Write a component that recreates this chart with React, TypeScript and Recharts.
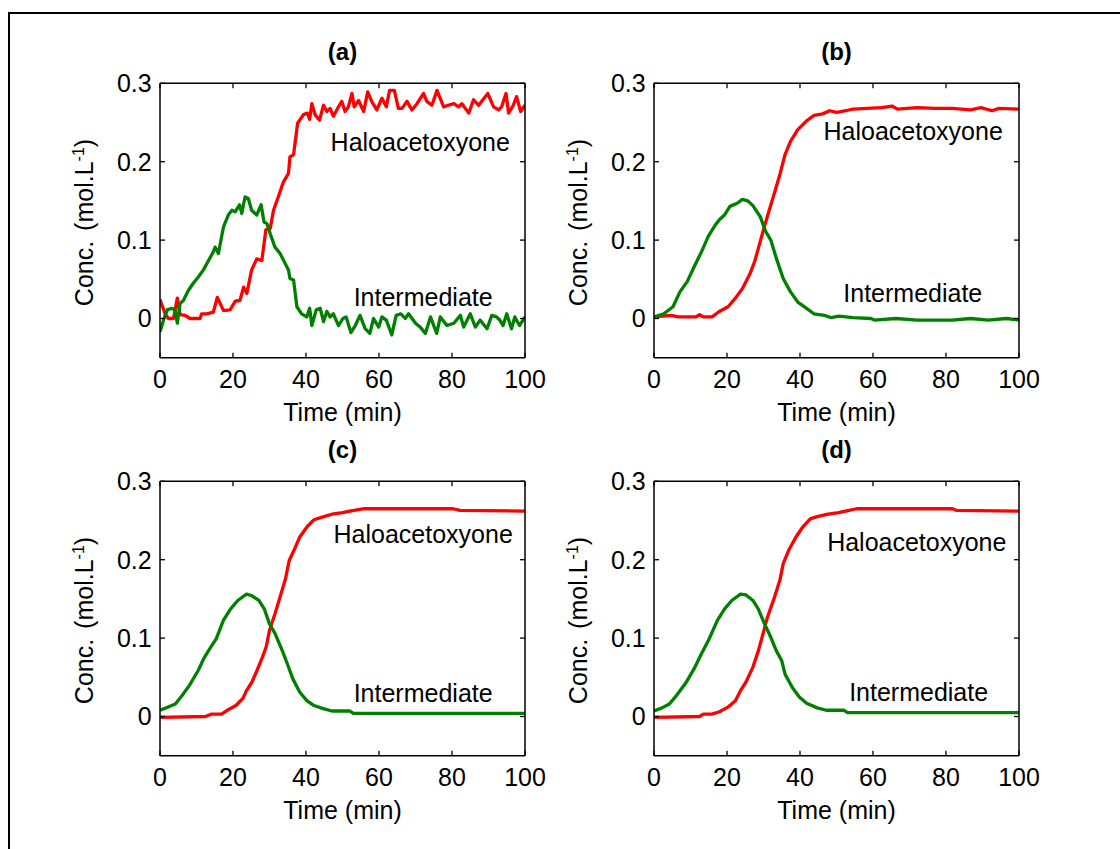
import React from 'react';
import { LineChart, Line, XAxis, YAxis, ReferenceDot } from 'recharts';

// ---------- axis ticks / labels ----------
const timeTicks = [0, 20, 40, 60, 80, 100];
const concTicks = [0, 0.1, 0.2, 0.3];
const panelTitles = ['(a)', '(b)', '(c)', '(d)'];
const seriesNames = ['Haloacetoxyone', 'Intermediate'];
const xAxisTitle = 'Time (min)';

// ---------- panel (a) ----------
const aHaloTime = [
  0, 1.4, 2.3, 3.7, 4.75, 5.5, 6.9, 8.2, 11, 11.4,
  12.8, 14.6, 15.7, 17.4, 19.2, 20.6, 21.9, 22.9, 23.8, 25.1,
  26.5, 27.9, 29, 30.2, 31.1, 32.4, 33.8, 35.2, 35.6, 36.6,
  37.7, 39.3, 40.4, 41, 41.6, 42.5, 43.7, 44.8, 45.7, 46.6,
  47.5, 48.9, 49.8, 50.7, 51.6, 52.6, 53.2, 54.4, 55.8, 56.9,
  58, 59.4, 60.8, 62, 62.9, 64.2, 65.3, 66.3, 67.7, 69,
  70.4, 72.2, 73.1, 74.5, 75.9, 77.7, 79, 80.5, 81.8, 82.7,
  84.6, 85.9, 87.3, 89.8, 91.4, 92.8, 93.6, 94.8, 95.5, 96.8,
  97.7, 98.8, 100,
];
const aHaloConc = [
  0.024, 0.006, 0, 0, 0.026, 0.005, 0.004, 0, 0, 0.006,
  0.006, 0.008, 0.027, 0.01, 0.011, 0.022, 0.023, 0.04, 0.032, 0.062,
  0.076, 0.074, 0.113, 0.115, 0.138, 0.155, 0.174, 0.185, 0.206, 0.209,
  0.249, 0.26, 0.262, 0.254, 0.274, 0.26, 0.253, 0.272, 0.264, 0.268,
  0.258, 0.27, 0.277, 0.264, 0.27, 0.287, 0.27, 0.278, 0.264, 0.289,
  0.277, 0.266, 0.281, 0.27, 0.291, 0.291, 0.268, 0.268, 0.277, 0.266,
  0.274, 0.287, 0.277, 0.272, 0.291, 0.27, 0.272, 0.274, 0.27, 0.274,
  0.262, 0.279, 0.272, 0.287, 0.27, 0.266, 0.27, 0.287, 0.262, 0.272,
  0.283, 0.264, 0.272,
];
const aInterTime = [
  0, 1.1, 2, 3.2, 4.1, 4.75, 5.5, 6.4, 7.8, 9.1,
  10.5, 11.9, 13.3, 14.6, 15.1, 16, 17.4, 18.7, 19.7, 20.6,
  21.8, 22.4, 23.3, 24.2, 25.1, 26.5, 27.7, 28.5, 29.3, 30.2,
  31.5, 32.9, 34.3, 35.2, 35.6, 36.6, 37.5, 38.8, 40.2, 41,
  41.6, 42.8, 43.9, 44.8, 45.7, 46.6, 47.5, 48.9, 50.1, 51,
  52.3, 53.5, 54.8, 56.2, 57.5, 58.5, 59.9, 60.8, 62, 63.5,
  64.7, 66, 67.2, 68.1, 70, 71.3, 72.7, 74.1, 75.8, 76.8,
  78.6, 80.5, 82.3, 83.2, 85, 86.4, 87.7, 89.6, 90.9, 92.2,
  93.1, 94, 95, 96.3, 97.2, 98.5, 100,
];
const aInterConc = [
  -0.017, 0, 0.011, 0.013, 0.011, -0.006, 0.019, 0.023, 0.036, 0.045,
  0.053, 0.062, 0.074, 0.085, 0.091, 0.083, 0.117, 0.132, 0.138, 0.136,
  0.145, 0.134, 0.155, 0.153, 0.138, 0.132, 0.145, 0.123, 0.121, 0.108,
  0.091, 0.083, 0.07, 0.062, 0.051, 0.049, 0.015, 0.006, 0.002, 0.013,
  -0.009, 0.011, 0.013, -0.004, 0.009, 0.002, 0.006, -0.009, 0, 0.002,
  -0.018, -0.009, 0.004, -0.013, -0.019, 0, -0.011, 0.002, -0.002, -0.021,
  0.004, 0.006, 0, 0.006, -0.006, -0.011, -0.019, 0.002, -0.019, 0.002,
  -0.009, -0.006, 0.004, -0.011, 0.006, -0.011, -0.002, -0.013, 0.004, 0.002,
  -0.002, -0.009, 0.006, -0.013, 0.002, -0.009, 0.002,
];

// ---------- panel (b) ----------
const bHaloTime = [
  0, 4.7, 6.6, 11.5, 12.5, 13.5, 15.9, 17.9, 20.3, 22.3,
  24.2, 26.2, 27.6, 29.1, 30.1, 31.5, 33, 34.5, 35.9, 37.4,
  39.4, 41.8, 43.8, 46.2, 48.1, 50.1, 52.5, 54.5, 58.4, 62.3,
  63.8, 65.2, 66.7, 72.1, 77, 81.8, 86.7, 89.6, 92.6, 94.5,
  100,
];
const bHaloConc = [
  0.002, 0.004, 0.002, 0.002, 0.005, 0.002, 0.002, 0.009, 0.015, 0.026,
  0.038, 0.056, 0.073, 0.098, 0.115, 0.137, 0.16, 0.184, 0.209, 0.226,
  0.241, 0.252, 0.259, 0.261, 0.265, 0.263, 0.265, 0.267, 0.268, 0.269,
  0.27, 0.271, 0.267, 0.269, 0.268, 0.268, 0.266, 0.269, 0.265, 0.268,
  0.267,
];
const bInterTime = [
  0, 2.7, 5.2, 7.1, 9.1, 11, 13, 14.9, 16.9, 17.9,
  19.3, 20.8, 22.8, 24.2, 25.7, 27.1, 29.1, 30.6, 32, 33.5,
  35.4, 37.4, 39.4, 41.8, 43.8, 46.7, 48.6, 50.6, 54.5, 59.4,
  60.4, 66.2, 72.1, 81.8, 86.7, 91.6, 96.5, 100,
];
const bInterConc = [
  0.002, 0.006, 0.015, 0.034, 0.047, 0.066, 0.085, 0.105, 0.12, 0.126,
  0.132, 0.143, 0.147, 0.152, 0.15, 0.144, 0.13, 0.111, 0.1, 0.077,
  0.051, 0.034, 0.021, 0.013, 0.006, 0.004, 0.001, 0.003, 0.001, 0,
  -0.002, 0, -0.002, -0.002, 0, -0.002, 0, -0.002,
];

// ---------- panel (c) ----------
const cHaloTime = [
  0, 12.5, 14, 16.9, 18.8, 20.8, 22.7, 23.7, 25.2, 26.6,
  28.1, 29.1, 30, 31.5, 33, 34.4, 35.4, 36.9, 38.3, 40.3,
  42.2, 44.2, 47.1, 50, 52, 55.9, 63.7, 80.3, 82.2, 100,
];
const cHaloConc = [
  -0.001, 0, 0.003, 0.003, 0.009, 0.014, 0.023, 0.033, 0.044, 0.059,
  0.076, 0.089, 0.11, 0.131, 0.154, 0.176, 0.199, 0.214, 0.229, 0.242,
  0.251, 0.254, 0.258, 0.26, 0.262, 0.265, 0.265, 0.265, 0.263, 0.262,
];
const cInterTime = [
  0, 2.2, 4.2, 6.1, 8.1, 10.5, 12, 14, 15.4, 17.4,
  19.3, 21.3, 23.7, 25.2, 27.1, 28.6, 30, 31.5, 33.5, 34.9,
  36.4, 38.3, 40.3, 42.2, 44.7, 47.1, 52, 53, 100,
];
const cInterConc = [
  0.008, 0.012, 0.016, 0.027, 0.04, 0.059, 0.074, 0.089, 0.099, 0.123,
  0.137, 0.148, 0.156, 0.154, 0.148, 0.137, 0.118, 0.106, 0.084, 0.067,
  0.048, 0.031, 0.02, 0.014, 0.01, 0.007, 0.007, 0.004, 0.004,
];

// ---------- panel (d) ----------
const dHaloTime = [
  0, 12.5, 13.5, 15.9, 17.9, 20.3, 22.3, 23.7, 25.2, 27.1,
  28.6, 29.6, 31.1, 33, 34.5, 35.4, 36.9, 38.9, 40.8, 42.8,
  44.7, 47.7, 50.6, 52.5, 55.5, 81.8, 82.8, 100,
];
const dHaloConc = [
  -0.001, 0, 0.003, 0.003, 0.006, 0.012, 0.02, 0.033, 0.044, 0.063,
  0.084, 0.101, 0.127, 0.152, 0.174, 0.195, 0.212, 0.229, 0.242, 0.252,
  0.255, 0.258, 0.26, 0.262, 0.265, 0.265, 0.263, 0.262,
];
const dInterTime = [
  0, 2.2, 4.2, 6.2, 8.6, 11, 13, 14.9, 17.4, 19.3,
  21.3, 23.7, 25.2, 27.1, 28.6, 30.1, 32, 33.5, 35, 35.9,
  37.9, 39.8, 41.8, 44.7, 47.2, 52, 53, 100,
];
const dInterConc = [
  0.007, 0.011, 0.016, 0.027, 0.042, 0.061, 0.08, 0.097, 0.123, 0.137,
  0.148, 0.156, 0.155, 0.148, 0.137, 0.12, 0.101, 0.084, 0.071, 0.054,
  0.037, 0.025, 0.017, 0.011, 0.008, 0.008, 0.005, 0.005,
];

// ---------- annotation anchors (time, conc) ----------
const haloLabelAt = [
  [71.3, 0.2255],
  [71.0, 0.2387],
  [72.1, 0.233],
  [72.0, 0.2225],
];
const interLabelAt = [
  [72.1, 0.0276],
  [70.9, 0.0319],
  [72.1, 0.03],
  [72.5, 0.031],
];

// ---------- layout / style ----------
const RED = '#FF0000';
const GREEN = '#008000';
const FONT = 25;
const CHART_W = 560;
const CHART_H = 440;
// plot area: x 160..525, y 83.3..357.7 inside each chart
const MARGIN = { top: 82.3, right: 34, bottom: 52.3, left: 100 };
const panelPos = [
  { left: 0, top: 0 },
  { left: 493.6, top: 0 },
  { left: 0, top: 397.7 },
  { left: 493.6, top: 397.7 },
];

const zip = (t: number[], c: number[]) => t.map((x, i) => ({ t: x, c: c[i] }));

const panelData = [
  { halo: zip(aHaloTime, aHaloConc), inter: zip(aInterTime, aInterConc) },
  { halo: zip(bHaloTime, bHaloConc), inter: zip(bInterTime, bInterConc) },
  { halo: zip(cHaloTime, cHaloConc), inter: zip(cInterTime, cInterConc) },
  { halo: zip(dHaloTime, dHaloConc), inter: zip(dInterTime, dInterConc) },
];

const fmtConc = (v: number) => (v === 0 ? '0' : String(v));
const noLabel = () => '';

const axisLine = { stroke: '#000', strokeWidth: 1.5 };
const tickLine = { stroke: '#000', strokeWidth: 1.3 };

function makeTitle(title: string) {
  return (props: any) => {
    const vb = props.viewBox || { x: 0, y: 0, width: 0, height: 0 };
    return (
      <text
        x={vb.x + vb.width / 2}
        y={vb.y + vb.height - 23}
        textAnchor="middle"
        fontSize={24}
        fontWeight="bold"
        fill="#000"
      >
        {title}
      </text>
    );
  };
}

const TimeLabel = (props: any) => {
  const vb = props.viewBox || { x: 0, y: 0, width: 0, height: 0 };
  return (
    <text x={vb.x + vb.width / 2} y={vb.y + 63.3} textAnchor="middle" fontSize={FONT} fill="#000">
      {xAxisTitle}
    </text>
  );
};

const ConcLabel = (props: any) => {
  const vb = props.viewBox || { x: 0, y: 0, width: 0, height: 0 };
  const bx = vb.x + vb.width - 67;
  const cy = vb.y + vb.height / 2 + 2;
  return (
    <text transform={`translate(${bx},${cy}) rotate(-90)`} textAnchor="middle" fontSize={FONT} fill="#000">
      {'Conc. '}
      <tspan dx={3}>(mol.L</tspan>
      <tspan dy={-9} fontSize={16}>-1</tspan>
      <tspan dy={9}>)</tspan>
    </text>
  );
};

function Panel({ idx }: { idx: number }) {
  const { halo, inter } = panelData[idx];
  const pos = panelPos[idx];
  return (
    <div style={{ position: 'absolute', left: pos.left, top: pos.top, width: CHART_W, height: CHART_H }}>
      <LineChart width={CHART_W} height={CHART_H} margin={MARGIN}>
        <XAxis
          xAxisId="b"
          type="number"
          dataKey="t"
          domain={[0, 100]}
          allowDataOverflow
          ticks={timeTicks}
          orientation="bottom"
          height={30}
          tickSize={-5}
          tickMargin={17.8}
          axisLine={axisLine}
          tickLine={tickLine}
          tick={{ fontSize: FONT, fill: '#000' }}
          label={TimeLabel}
        />
        <XAxis
          xAxisId="top"
          type="number"
          dataKey="t"
          domain={[0, 100]}
          allowDataOverflow
          ticks={timeTicks}
          orientation="top"
          height={1}
          tickSize={-5}
          tickFormatter={noLabel}
          axisLine={axisLine}
          tickLine={tickLine}
          label={makeTitle(panelTitles[idx])}
        />
        <YAxis
          yAxisId="l"
          type="number"
          domain={[-0.05, 0.3]}
          allowDataOverflow
          ticks={concTicks}
          width={60}
          tickSize={-5}
          tickMargin={13.3}
          tickFormatter={fmtConc}
          axisLine={axisLine}
          tickLine={tickLine}
          tick={{ fontSize: FONT, fill: '#000' }}
          label={ConcLabel}
        />
        <YAxis
          yAxisId="r"
          orientation="right"
          type="number"
          domain={[-0.05, 0.3]}
          allowDataOverflow
          ticks={concTicks}
          width={1}
          tickSize={-5}
          tickFormatter={noLabel}
          axisLine={axisLine}
          tickLine={tickLine}
        />
        <Line
          xAxisId="b"
          yAxisId="l"
          data={halo}
          dataKey="c"
          name={seriesNames[0]}
          type="linear"
          stroke={RED}
          strokeWidth={3.3}
          strokeLinejoin="round"
          dot={false}
          isAnimationActive={false}
        />
        <Line
          xAxisId="b"
          yAxisId="l"
          data={inter}
          dataKey="c"
          name={seriesNames[1]}
          type="linear"
          stroke={GREEN}
          strokeWidth={3.3}
          strokeLinejoin="round"
          dot={false}
          isAnimationActive={false}
        />
        <ReferenceDot
          xAxisId="b"
          yAxisId="l"
          x={haloLabelAt[idx][0]}
          y={haloLabelAt[idx][1]}
          r={1}
          fill="none"
          stroke="none"
          label={{ value: seriesNames[0], position: 'center', fontSize: FONT, fill: '#000' }}
        />
        <ReferenceDot
          xAxisId="b"
          yAxisId="l"
          x={interLabelAt[idx][0]}
          y={interLabelAt[idx][1]}
          r={1}
          fill="none"
          stroke="none"
          label={{ value: seriesNames[1], position: 'center', fontSize: FONT, fill: '#000' }}
        />
      </LineChart>
    </div>
  );
}

export default function App() {
  return (
    <div
      style={{
        position: 'absolute',
        left: 0,
        top: 0,
        width: 1120,
        height: 849,
        overflow: 'hidden',
        background: '#fff',
        fontFamily: '"Liberation Sans", Arial, Helvetica, sans-serif',
      }}
    >
      <div
        style={{
          position: 'absolute',
          left: 8,
          top: 12,
          width: 1130,
          height: 860,
          borderLeft: '2px solid #000',
          borderTop: '2px solid #000',
        }}
      />
      {[0, 1, 2, 3].map((i) => (
        <Panel key={i} idx={i} />
      ))}
    </div>
  );
}
